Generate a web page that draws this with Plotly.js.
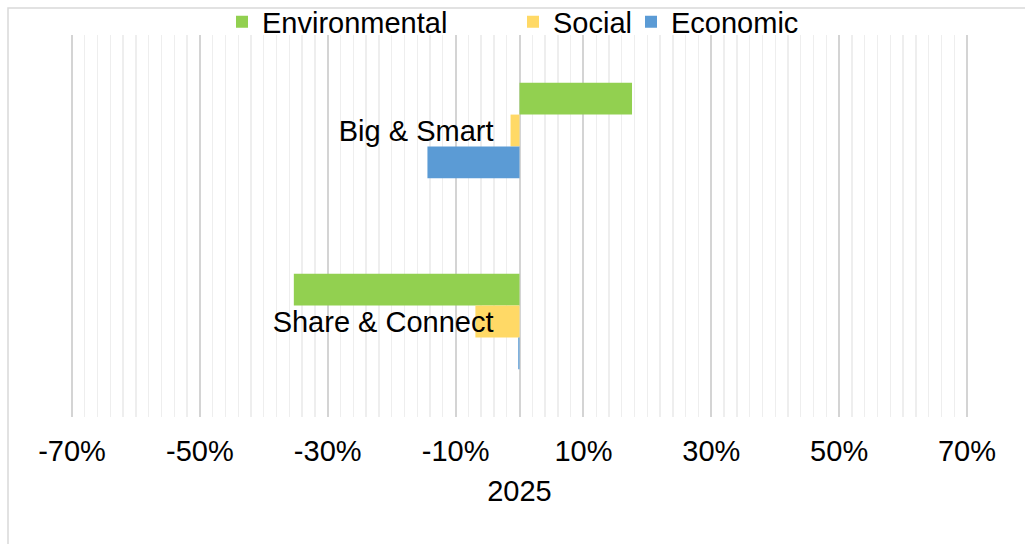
<!DOCTYPE html>
<html>
<head>
<meta charset="utf-8">
<script src="https://cdn.plot.ly/plotly-3.0.1.min.js"></script>
<style>
html,body{margin:0;padding:0;background:#fff;}
#chart{width:1025px;height:544px;}
</style>
</head>
<body>
<div id="chart"></div>
<script>
const categories = ['Big & Smart', 'Share & Connect'];
const seriesNames = ['Environmental', 'Social', 'Economic'];
const environmental = [0.176, -0.353];
const social = [-0.014, -0.069];
const economic = [-0.144, -0.002];
const xTickValues = [-0.7, -0.5, -0.3, -0.1, 0.1, 0.3, 0.5, 0.7];
const xTickLabels = ['-70%', '-50%', '-30%', '-10%', '10%', '30%', '50%', '70%'];
const axisTitle = '2025';

const colors = ['#92d050', '#ffd966', '#5b9bd5'];
const seriesValues = [environmental, social, economic];
const legendIds = ['legend', 'legend2', 'legend3'];
const FONT = 'Liberation Sans, Arial, sans-serif';
const FS = 29;
const GRID = '#d4d4d4';

const traces = seriesValues.map((vals, i) => ({
  type: 'bar',
  orientation: 'h',
  name: seriesNames[i],
  y: categories,
  x: vals,
  marker: {color: colors[i]},
  legend: legendIds[i],
  hoverinfo: 'x+name'
}));

// plot area: left 72, right 967, top 35, bottom 417
const L = 72, R = 58, T = 35, B = 127, W = 1025, H = 544;
const pw = W - L - R, ph = H - T - B;
const px2x = p => (p - L) / pw;
const py2y = p => 1 - (p - T) / ph;

const legendTextStarts = [262, 553, 671];
const legendCommon = {
  orientation: 'h',
  yanchor: 'middle',
  xanchor: 'left',
  y: py2y(22),
  font: {family: FONT, size: FS, color: '#000'},
  bgcolor: 'rgba(0,0,0,0)',
  borderwidth: 0
};

const xMin = xTickValues[0], xMax = xTickValues[xTickValues.length - 1];

const layout = {
  width: W, height: H,
  margin: {l: L, r: R, t: T, b: B, pad: 0, autoexpand: false},
  paper_bgcolor: '#fff',
  plot_bgcolor: '#fff',
  font: {family: FONT, size: FS, color: '#000'},
  barmode: 'group',
  bargap: 0.5,
  bargroupgap: 0,
  showlegend: true,
  legend: Object.assign({}, legendCommon, {x: px2x(legendTextStarts[0] - 40)}),
  legend2: Object.assign({}, legendCommon, {x: px2x(legendTextStarts[1] - 40)}),
  legend3: Object.assign({}, legendCommon, {x: px2x(legendTextStarts[2] - 40)}),
  xaxis: {
    range: [xMin, xMax],
    tickmode: 'array',
    tickvals: xTickValues,
    ticktext: xTickLabels,
    ticks: '',
    showline: false,
    showgrid: true,
    gridcolor: GRID,
    gridwidth: 2,
    zeroline: true,
    zerolinecolor: GRID,
    zerolinewidth: 2,
    minor: {tick0: xMin, dtick: 0.02, showgrid: true, gridcolor: '#eeeeee', gridwidth: 1.3, ticks: ''},
    tickfont: {family: FONT, size: FS, color: '#000'},
    ticklabelstandoff: 14,
    automargin: false,
    title: {text: axisTitle, font: {family: FONT, size: FS, color: '#000'}, standoff: 14},
    fixedrange: true
  },
  yaxis: {
    type: 'category',
    autorange: 'reversed',
    anchor: 'free',
    position: 0.5,
    side: 'left',
    ticks: '',
    showline: false,
    showgrid: false,
    zeroline: false,
    automargin: false,
    tickfont: {family: FONT, size: FS, color: '#000'},
    ticklabelstandoff: 26,
    fixedrange: true
  },
  shapes: [
    {
      type: 'rect', xref: 'paper', yref: 'paper',
      x0: px2x(8), x1: px2x(1200), y0: py2y(800), y1: py2y(8),
      line: {color: '#d9d9d9', width: 1.5}, fillcolor: 'rgba(0,0,0,0)', layer: 'below'
    },
    // major gridlines at the two range ends (Plotly omits grid lines on the plot edges)
    {type: 'line', xref: 'paper', yref: 'paper', x0: 0, x1: 0, y0: 0, y1: 1,
     line: {color: GRID, width: 2}, layer: 'below'},
    {type: 'line', xref: 'paper', yref: 'paper', x0: 1, x1: 1, y0: 0, y1: 1,
     line: {color: GRID, width: 2}, layer: 'below'}
  ]
};

Plotly.newPlot('chart', traces, layout, {displayModeBar: false, staticPlot: true});
</script>
</body>
</html>
